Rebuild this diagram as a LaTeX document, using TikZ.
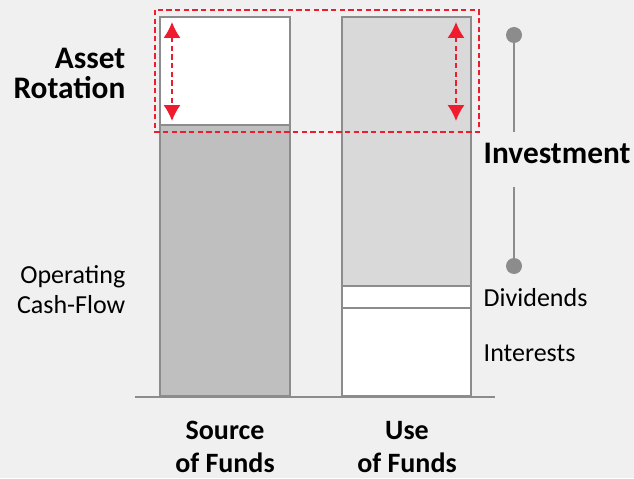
\documentclass[tikz,border=0pt]{standalone}
\usepackage{fontspec}
\setmainfont{Carlito}
\usetikzlibrary{arrows.meta,positioning}

\definecolor{bgcolor}{HTML}{F0F0F0}
\definecolor{barline}{HTML}{8C8C8C}
\definecolor{darkbar}{HTML}{BFBFBF}
\definecolor{lightbar}{HTML}{D9D9D9}
\definecolor{rotred}{HTML}{EE1C2E}

\begin{document}
\begin{tikzpicture}[x=0.75pt,y=-0.75pt,
    bar/.style={draw=barline, line width=2pt},
    rotbox/.style={draw=rotred, line width=1.5pt, dash pattern=on 4pt off 2.5pt},
    rotarrow/.style={rotbox, {Latex[length=12pt,width=13pt]}-{Latex[length=12pt,width=13pt]}},
    dot/.style={circle, fill=barline, minimum size=12pt, inner sep=0pt},
    stem/.style={draw=barline, line width=2pt},
    boldtext/.style={font=\bfseries\fontsize{23.5}{22.5}\selectfont, align=right},
    plaintext/.style={font=\fontsize{19.5}{22.5}\selectfont, align=right},
    funds/.style={font=\bfseries\fontsize{21}{24.75}\selectfont, align=center, inner sep=1pt}]
    \useasboundingbox[fill=bgcolor] (0,0) rectangle (634,478);

    % Source of Funds
    \filldraw[bar, fill=darkbar] (160,125) rectangle (290,396);
    \filldraw[bar, fill=white] (160,17) rectangle (290,125);
    % Use of Funds
    \foreach \top/\bot/\col in {17/286/lightbar, 286/308/white, 308/396/white} {
        \filldraw[bar, fill=\col] (342,\top) rectangle (471,\bot);
    }
    % Baseline
    \coordinate (base-l) at (135,397);
    \coordinate (base-r) at (495,397);
    \draw[bar] (base-l) -- (base-r);

    % Asset rotation
    \draw[rotbox] (155,10) rectangle (479,132);
    \foreach \name/\x in {src/172, use/456} {
        \coordinate (\name-top) at (\x,22);
        \coordinate (\name-bot) at (\x,121);
        \draw[rotarrow] (\name-top) -- (\name-bot);
    }

    % Investment
    \node[dot] (dot-top) at (514,35) {};
    \node[dot] (dot-bot) at (514,266) {};
    \node[boldtext, anchor=west] (invest) at (479,153) {Investment};
    \coordinate (stem-a) at (514,132);
    \coordinate (stem-b) at (514,187);
    \draw[stem] (dot-top) -- (stem-a);
    \draw[stem] (stem-b) -- (dot-bot);

    % Labels
    \node[boldtext, anchor=east] (rotation) at (130,73) {Asset\\Rotation};
    \node[plaintext, anchor=east] (opcf) at (130,290) {Operating\\Cash-Flow};
    \node[plaintext, anchor=west] (div) at (479,298) {Dividends};
    \node[plaintext, anchor=west] (int) at (479,353) {Interests};
    \node[funds] (source) at (225,447) {Source\\of Funds};
    \node[funds] (use) at (407,447) {Use\\of Funds};
\end{tikzpicture}
\end{document}
